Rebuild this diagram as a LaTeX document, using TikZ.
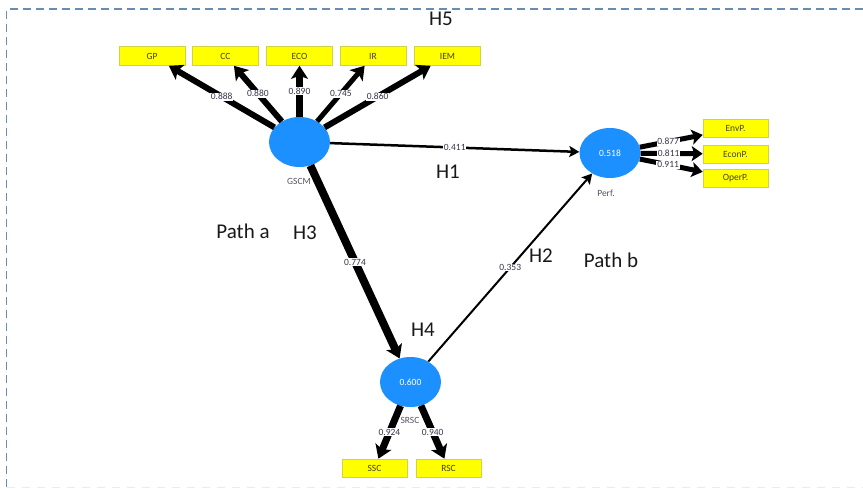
\documentclass[tikz,border=0pt]{standalone}
\usepackage{fontspec}
\setmainfont{Carlito}
\usetikzlibrary{arrows.meta,shapes.geometric}
\definecolor{lvblue}{RGB}{28,144,255}
\definecolor{indyel}{RGB}{255,255,0}
\definecolor{indedge}{RGB}{210,210,70}
\definecolor{numcol}{RGB}{60,50,75}
\definecolor{bordcol}{RGB}{105,140,178}
\definecolor{lvtext}{RGB}{90,80,100}
\definecolor{boxtext}{RGB}{70,65,30}
\begin{document}
\begin{tikzpicture}[x=1pt,y=-1pt,
  lv/.style={ellipse, fill=lvblue, draw=none, minimum width=61pt, minimum height=50pt, inner sep=0pt, text=white, font=\fontsize{9.5}{10}\selectfont},
  indbox/.style={rectangle, fill=indyel, draw=indedge, line width=0.6pt, minimum width=66pt, minimum height=19pt, inner sep=0pt, font=\fontsize{9.5}{10}\selectfont, text=boxtext},
  indboxr/.style={indbox, minimum width=65pt, minimum height=18pt},
  coef/.style={fill=white, inner sep=0.8pt, font=\fontsize{9.5}{10}\selectfont, text=numcol},
  lvname/.style={font=\fontsize{9.5}{10}\selectfont, text=lvtext, inner sep=0pt},
  big/.style={font=\fontsize{21}{24}\selectfont, text=black!90, inner sep=0pt},
  arrbig/.style={-{Stealth[length=13pt,width=17pt,inset=3pt]}},
  arrmid/.style={-{Stealth[length=11pt,width=15pt,inset=2.5pt]}},
  arrsmall/.style={-{Stealth[length=10pt,width=11pt,inset=2pt]}}
]
\useasboundingbox (0,0) rectangle (863,488);
% frame
\draw[bordcol, line width=1.6pt, dash pattern=on 8pt off 5pt] (863,9) -- (6.5,9) -- (6.5,488);
\draw[black!8, line width=1pt, dash pattern=on 8pt off 7pt] (7,487) -- (863,487);

% latent variables
\node[lv] (gscm) at (299.5,142) {};
\node[lv] (perf) at (610,153) {0.518};
\node[lv] (srsc) at (410.5,382) {0.600};

% indicators
\node[indbox] (gp)  at (152,56)   {GP};
\node[indbox] (cc)  at (225.5,56) {CC};
\node[indbox] (eco) at (299.5,56) {ECO};
\node[indbox] (ir)  at (373,56)   {IR};
\node[indbox] (iem) at (447.5,56) {IEM};
\node[indboxr] (envp)  at (735.5,128.5) {EnvP.};
\node[indboxr] (econp) at (735.5,154)   {EconP.};
\node[indboxr] (operp) at (735.5,178.5) {OperP.};
\node[indboxr] (ssc) at (374.5,468) {SSC};
\node[indboxr] (rsc) at (448.5,468) {RSC};

% outer loadings
\draw[arrbig, line width=6pt]   (gscm) -- (gp)  node[coef, pos=0.5] {0.888};
\draw[arrbig, line width=6pt]   (gscm) -- (cc)  node[coef, pos=0.5] {0.880};
\draw[arrbig, line width=6.5pt] (gscm) -- (eco) node[coef, pos=0.5] {0.890};
\draw[arrbig, line width=5pt]   (gscm) -- (ir)  node[coef, pos=0.5] {0.745};
\draw[arrbig, line width=6pt]   (gscm) -- (iem) node[coef, pos=0.5] {0.860};

\draw[arrmid, line width=5pt] (perf) -- (envp)  node[coef, pos=0.45] {0.877};
\draw[arrmid, line width=5pt] (perf) -- (econp) node[coef, pos=0.45] {0.811};
\draw[arrmid, line width=5pt] (perf) -- (operp) node[coef, pos=0.45] {0.911};

\draw[arrbig, line width=7pt] (srsc) -- (ssc) node[coef, pos=0.5] {0.924};
\draw[arrbig, line width=7pt] (srsc) -- (rsc) node[coef, pos=0.5] {0.940};

% structural paths
\draw[arrbig, line width=8pt] (gscm) -- (srsc) node[coef, pos=0.5] {0.774};
\draw[arrsmall, line width=2.5pt] (gscm) -- (perf) node[coef, pos=0.5] {0.411};
\draw[arrsmall, line width=2pt] (srsc) -- (perf) node[coef, pos=0.5] {0.353};

% LV names
\node[lvname] (gscmname) at (299,181) {GSCM};
\node[lvname] (perfname) at (606,193) {Perf.};
\node[lvname] (srscname) at (410,420) {SRSC};

% hypothesis labels
\node[big] (h5) at (441,19) {H5};
\node[big] (h1) at (448,172) {H1};
\node[big] (patha) at (243,231) {Path a};
\node[big] (h3) at (305,233) {H3};
\node[big] (h2) at (541,256) {H2};
\node[big] (pathb) at (611,260) {Path b};
\node[big] (h4) at (423,330) {H4};
\end{tikzpicture}
\end{document}
